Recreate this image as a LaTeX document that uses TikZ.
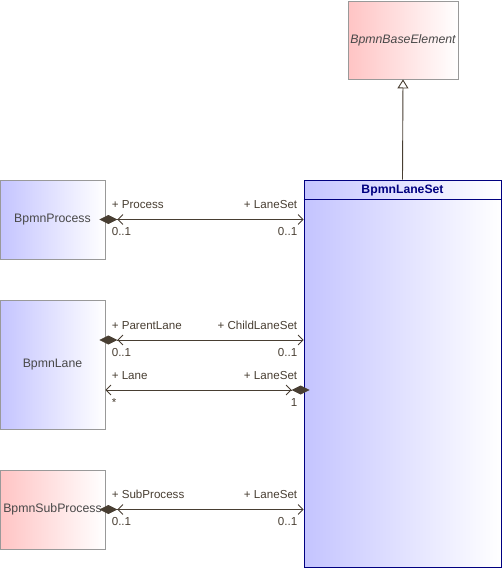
\documentclass[tikz,border=0pt]{standalone}
\usepackage{fontspec}
\setmainfont{Liberation Sans}
\usetikzlibrary{arrows.meta}
\definecolor{umlblue}{RGB}{196,196,255}
\definecolor{umlpink}{RGB}{255,196,196}
\definecolor{umlnavy}{RGB}{0,0,128}
\definecolor{umlline}{RGB}{72,62,50}
\definecolor{umltext}{RGB}{72,72,72}
\tikzset{
  cls/.style={draw=gray!80, line width=0.8pt, left color=umlblue, right color=white,
    minimum width=105pt, inner sep=0pt, text=umltext, font=\fontsize{12.3}{14}\selectfont},
  pinkcls/.style={cls, left color=umlpink},
  lbl/.style={inner sep=0pt, font=\fontsize{11.6}{13}\selectfont},
  barb/.tip={Straight Barb[length=5pt,width=10pt]},
  dia/.tip={Diamond[length=18pt,width=9pt,fill=umlline,sep=-6pt]},
  compleft/.style={umlline, line width=0.8pt, {dia[]barb[]}-{barb[]}},
  compright/.style={umlline, line width=0.8pt, {barb[]}-{barb[]dia[]}},
  gen/.style={umlline, line width=0.9pt, -{Triangle[open,length=9pt,width=11pt,fill=white]}}
}
\begin{document}
\begin{tikzpicture}[x=1pt, y=-1pt]
  \useasboundingbox (0,0) rectangle (503,570);
  % classes
  \node[pinkcls, minimum width=110pt, minimum height=78pt, font=\fontsize{12.3}{14}\selectfont\itshape] (base) at (403,40) {BpmnBaseElement};
  \node[cls, minimum height=79pt] (proc) at (52.5,219.5) {BpmnProcess};
  \node[cls, minimum height=129pt] (lane) at (52.5,364.5) {BpmnLane};
  \node[pinkcls, minimum height=79pt] (sub) at (52.5,509.5) {BpmnSubProcess};
  \node[draw=umlnavy, line width=0.8pt, left color=umlblue, right color=white,
    minimum width=197pt, minimum height=387pt] (ls) at (402.5,373.5) {};
  \draw[umlnavy, line width=0.8pt] ([yshift=-20pt]ls.north west) -- ([yshift=-20pt]ls.north east);
  \node[text=umlnavy, font=\fontsize{12.2}{14}\selectfont\bfseries] (lstitle) at ([yshift=-11pt]ls.north) {BpmnLaneSet};
  % generalization
  \draw[gen] (ls.north) -- (base.south);
  % associations
  \draw[compleft] (proc.east) -- (proc.east -| ls.west)
    node[lbl, pos=0, anchor=base west, xshift=6pt, yshift=11pt] (p1) {+ Process}
    node[lbl, pos=0, anchor=base west, xshift=6pt, yshift=-16pt] (p2) {0..1}
    node[lbl, pos=1, anchor=base east, xshift=-6pt, yshift=11pt] (p3) {+ LaneSet}
    node[lbl, pos=1, anchor=base east, xshift=-6pt, yshift=-16pt] (p4) {0..1};
  \draw[compleft] ([yshift=24.5pt]lane.east) -- ([yshift=24.5pt]lane.east -| ls.west)
    node[lbl, pos=0, anchor=base west, xshift=6pt, yshift=11pt] (l1) {+ ParentLane}
    node[lbl, pos=0, anchor=base west, xshift=6pt, yshift=-16pt] (l2) {0..1}
    node[lbl, pos=1, anchor=base east, xshift=-6pt, yshift=11pt] (l3) {+ ChildLaneSet}
    node[lbl, pos=1, anchor=base east, xshift=-6pt, yshift=-16pt] (l4) {0..1};
  \draw[compright] ([yshift=-25.5pt]lane.east) -- ([yshift=-25.5pt]lane.east -| ls.west)
    node[lbl, pos=0, anchor=base west, xshift=6pt, yshift=11pt] (l5) {+ Lane}
    node[lbl, pos=0, anchor=base west, xshift=6pt, yshift=-16pt] (l6) {*}
    node[lbl, pos=1, anchor=base east, xshift=-6pt, yshift=11pt] (l7) {+ LaneSet}
    node[lbl, pos=1, anchor=base east, xshift=-6pt, yshift=-16pt] (l8) {1};
  \draw[compleft] (sub.east) -- (sub.east -| ls.west)
    node[lbl, pos=0, anchor=base west, xshift=6pt, yshift=11pt] (s1) {+ SubProcess}
    node[lbl, pos=0, anchor=base west, xshift=6pt, yshift=-16pt] (s2) {0..1}
    node[lbl, pos=1, anchor=base east, xshift=-6pt, yshift=11pt] (s3) {+ LaneSet}
    node[lbl, pos=1, anchor=base east, xshift=-6pt, yshift=-16pt] (s4) {0..1};
\end{tikzpicture}
\end{document}
